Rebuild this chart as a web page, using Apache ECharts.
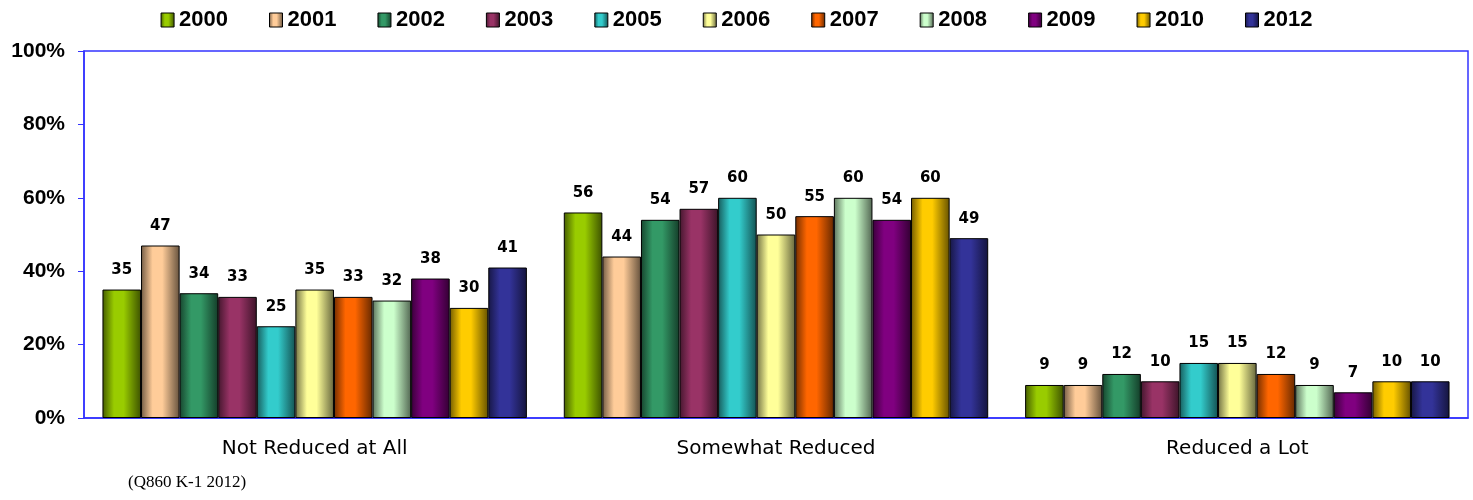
<!DOCTYPE html>
<html>
<head>
<meta charset="utf-8">
<script src="https://cdn.jsdelivr.net/npm/echarts@6/dist/echarts.min.js"></script>
<style>
  html, body { margin: 0; padding: 0; background: #fff; }
  #graph { width: 1473px; height: 500px; }
</style>
</head>
<body>
<div id="graph"></div>
<script>
var categories = ['Not Reduced at All', 'Somewhat Reduced', 'Reduced a Lot'];
var years = ['2000', '2001', '2002', '2003', '2005', '2006', '2007', '2008', '2009', '2010', '2012'];
var colors = ['#99CC00', '#FFCC99', '#339966', '#993366', '#33CCCC', '#FFFF99', '#FF6600', '#CCFFCC', '#800080', '#FFCC00', '#333399'];

var y2000 = [35, 56, 9];
var y2001 = [47, 44, 9];
var y2002 = [34, 54, 12];
var y2003 = [33, 57, 10];
var y2005 = [25, 60, 15];
var y2006 = [35, 50, 15];
var y2007 = [33, 55, 12];
var y2008 = [32, 60, 9];
var y2009 = [38, 54, 7];
var y2010 = [30, 60, 10];
var y2012 = [41, 49, 10];
var yearData = [y2000, y2001, y2002, y2003, y2005, y2006, y2007, y2008, y2009, y2010, y2012];

var yTicks = [0, 20, 40, 60, 80, 100];

// darken a hex colour for the bar shading
function shade(hex, f) {
  var r = parseInt(hex.substr(1, 2), 16), g = parseInt(hex.substr(3, 2), 16), b = parseInt(hex.substr(5, 2), 16);
  return 'rgb(' + Math.round(r * f) + ',' + Math.round(g * f) + ',' + Math.round(b * f) + ')';
}

function barFill(c) {
  return new echarts.graphic.LinearGradient(0, 0, 1, 0, [
    { offset: 0, color: shade(c, 0.45) },
    { offset: 0.3, color: c },
    { offset: 0.55, color: c },
    { offset: 1, color: shade(c, 0.4) }
  ]);
}

var series = years.map(function (y, i) {
  return {
    name: y,
    type: 'bar',
    data: yearData[i],
    barGap: '0%',
    barCategoryGap: '8%',
    itemStyle: { color: barFill(colors[i]), borderColor: '#000', borderWidth: 1 },
    label: {
      show: true,
      position: 'top',
      distance: 12,
      fontFamily: 'DejaVu Sans',
      fontWeight: 'bold',
      fontSize: 15,
      color: '#000'
    }
  };
});

var myChart = echarts.init(document.getElementById('graph'));
var option = {
  animation: false,
  color: colors,
  legend: {
    data: years,
    top: 4,
    left: 'center',
    icon: 'rect',
    itemWidth: 13,
    itemHeight: 14,
    itemGap: 41,
    itemStyle: { borderColor: '#000', borderWidth: 1 },
    textStyle: { fontFamily: 'Liberation Sans', fontWeight: 'bold', fontSize: 22, color: '#000' }
  },
  grid: { left: 84, right: 5, top: 51, bottom: 82, show: true, borderColor: '#3333FF', borderWidth: 1.5 },
  xAxis: {
    type: 'category',
    data: categories,
    axisLine: { lineStyle: { color: '#3333FF', width: 1.5 } },
    axisTick: { show: false },
    axisLabel: { margin: 21, fontFamily: 'DejaVu Sans', fontSize: 20, color: '#000' }
  },
  yAxis: {
    type: 'value',
    min: 0,
    max: 100,
    interval: 20,
    axisLine: { show: true, lineStyle: { color: '#3333FF', width: 1.5 } },
    axisTick: { show: true, length: 6, lineStyle: { color: '#3333FF' } },
    splitLine: { show: false },
    axisLabel: {
      margin: 19,
      fontFamily: 'Liberation Sans',
      fontWeight: 'bold',
      fontSize: 21,
      color: '#000',
      formatter: function (v) { return yTicks.indexOf(v) >= 0 ? v + '%' : ''; }
    }
  },
  graphic: [{
    type: 'text',
    left: 128,
    top: 474,
    style: { text: '(Q860 K-1 2012)', font: '17px "Liberation Serif"', fill: '#000' }
  }],
  series: series
};
myChart.setOption(option, true);
</script>
</body>
</html>
